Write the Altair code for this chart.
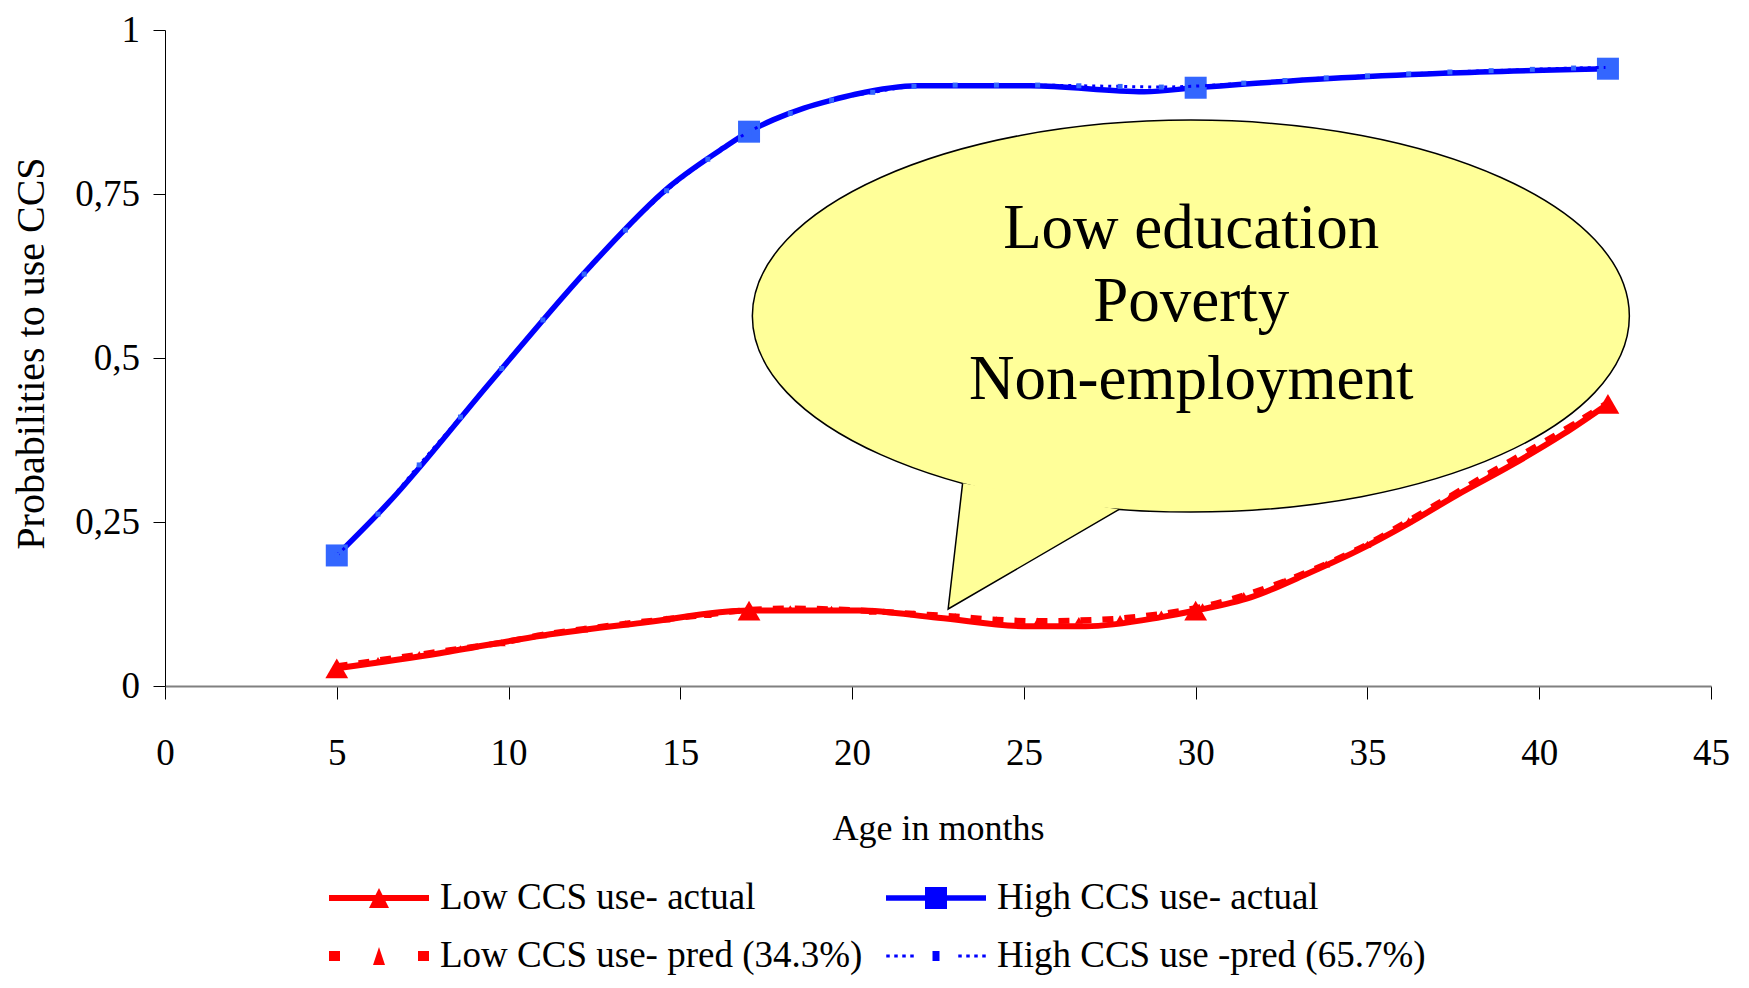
import altair as alt
import pandas as pd

# ---------------- data ----------------
ages_low_actual = [5, 8, 11, 14, 17, 20.2, 22.5, 25.1, 26.8, 29, 30, 31.6, 33.2, 34.7, 36.2, 37.6, 39.2, 40.7, 42]
prob_low_actual = [0.027, 0.050, 0.077, 0.097, 0.115, 0.115, 0.104, 0.091, 0.091, 0.105, 0.115, 0.135,
                   0.170, 0.206, 0.248, 0.291, 0.337, 0.384, 0.430]

ages_high_actual = [5, 6.5, 9.5, 12.4, 14.7, 16.25, 17, 17.7, 18.6, 19.4, 20.1, 21.9, 25.2, 28.5, 30, 33.9, 37.2, 42]
prob_high_actual = [0.199, 0.279, 0.465, 0.641, 0.762, 0.820, 0.845, 0.863, 0.881, 0.893, 0.902, 0.915,
                    0.915, 0.906, 0.912, 0.926, 0.934, 0.941]

marker_ages = [5, 17, 30, 42]

ages_pred = [5, 6.2, 7.4, 8.6, 9.8, 11, 12.2, 13.4, 14.6, 15.8, 17, 18.2, 19.4, 20.6, 21.8, 23, 24.2,
             25.4, 26.6, 27.8, 29, 30.2, 31.4, 32.6, 33.8, 35, 36.2, 37.4, 38.6, 39.8, 41, 42]
prob_low_pred = [0.030, 0.039, 0.048, 0.057, 0.066, 0.078, 0.087, 0.095, 0.102, 0.109, 0.116, 0.118,
                 0.117, 0.114, 0.110, 0.106, 0.101, 0.099, 0.100, 0.103, 0.110, 0.121, 0.138, 0.160,
                 0.186, 0.216, 0.252, 0.289, 0.326, 0.362, 0.399, 0.432]
prob_high_pred = [0.199, 0.262, 0.337, 0.410, 0.484, 0.558, 0.628, 0.695, 0.755, 0.803, 0.845, 0.873,
                  0.893, 0.905, 0.914, 0.916, 0.916, 0.916, 0.915, 0.914, 0.913, 0.915, 0.919, 0.923,
                  0.927, 0.930, 0.933, 0.936, 0.938, 0.940, 0.942, 0.943]

# legend order (filled column by column: left column first)
series_names = ["Low CCS use- actual", "Low CCS use- pred (34.3%)",
                "High CCS use- actual", "High CCS use -pred (65.7%)"]
series_colors = ["#FF0000", "#FF0000", "#0000FF", "#0000FF"]

callout_lines = ["Low education", "Poverty", "Non-employment"]
callout_line_age = [29.87, 29.87, 29.87]
callout_line_prob = [0.697, 0.585, 0.466]
callout_age = [29.86]
callout_prob = [0.5639]

x_ticks = [0, 5, 10, 15, 20, 25, 30, 35, 40, 45]
y_ticks = [0, 0.25, 0.5, 0.75, 1]

FONT = "Liberation Serif"


def frame(xs, ys):
    return pd.DataFrame({"age": xs, "p": ys})


low_act = frame(ages_low_actual, prob_low_actual)
high_act = frame(ages_high_actual, prob_high_actual)
low_mark = low_act[low_act["age"].isin(marker_ages)]
high_mark = high_act[high_act["age"].isin(marker_ages)]
low_pred = frame(ages_pred, prob_low_pred)
high_pred = frame(ages_pred, prob_high_pred)

legend_df = pd.DataFrame({
    "age": [ages_low_actual[0], ages_pred[0], ages_high_actual[0], ages_pred[0]],
    "p": [prob_low_actual[0], prob_low_pred[0], prob_high_actual[0], prob_high_pred[0]],
    "series": series_names,
})
text_df = pd.DataFrame({"age": callout_line_age, "p": callout_line_prob, "label": callout_lines})
callout_df = frame(callout_age, callout_prob)

# ---------------- shared encodings ----------------
X = alt.X("age:Q", scale=alt.Scale(domain=[0, 45], nice=False, zero=False),
          axis=alt.Axis(values=x_ticks, title="Age in months", grid=False,
                        tickSize=13, tickColor="black", tickWidth=1,
                        domainColor="#808080", domainWidth=2,
                        labelFont=FONT, labelFontSize=37, labelColor="black",
                        labelBaseline="middle", labelPadding=54,
                        labelFlush=False, labelOverlap=False,
                        titleFont=FONT, titleFontSize=36, titleFontWeight="normal",
                        titleColor="black", titleY=142, titleBaseline="middle"))
Y = alt.Y("p:Q", scale=alt.Scale(domain=[0, 1], nice=False),
          axis=alt.Axis(values=y_ticks, labelExpr="replace(toString(datum.value), '.', ',')",
                        grid=False, tickSize=12, tickColor="black", tickWidth=1,
                        domainColor="black", domainWidth=1,
                        labelFont=FONT, labelFontSize=37, labelColor="black",
                        labelPadding=13.5, labelFlush=False, labelOverlap=False,
                        title="Probabilities to use CCS", titleFont=FONT, titleFontSize=40,
                        titleFontWeight="normal", titleColor="black",
                        titleX=-134, titleY=323, titleBaseline="middle", titleAngle=270))

# ---------------- legend symbols ----------------
def rect(x0, x1, y0, y1):
    return f"M{x0},{y0}L{x1},{y0}L{x1},{y1}L{x0},{y1}Z"


sym_low_act = rect(-1, 1, -0.06, 0.06) + "M-0.2,0.2L0,-0.2L0.2,0.2Z"
sym_high_act = rect(-1, 1, -0.055, 0.055) + rect(-0.22, 0.22, -0.22, 0.22)
sym_low_pred = rect(-1, -0.78, -0.1, 0.1) + rect(0.78, 1, -0.1, 0.1) + "M-0.12,0.18L0,-0.18L0.12,0.18Z"
sym_high_pred = "".join(rect(round(c - 0.035, 3), round(c + 0.035, 3), -0.03, 0.03)
                        for c in [-0.96, -0.8, -0.64, -0.48, 0.48, 0.64, 0.8, 0.96]) + rect(-0.07, 0.07, -0.1, 0.1)

legend = alt.Legend(title=None, orient="none", legendX=164, legendY=848, columns=2,
                    columnPadding=23, rowPadding=18, clipHeight=40, labelOffset=11,
                    labelFont=FONT, labelFontSize=37, labelColor="black", labelLimit=0,
                    symbolSize=10000, symbolStrokeWidth=0, symbolOpacity=1, padding=0)

# ---------------- layers ----------------
line_low = alt.Chart(low_act).mark_line(color="#FF0000", strokeWidth=6, interpolate="monotone").encode(x=X, y=Y)
line_high = alt.Chart(high_act).mark_line(color="#0000FF", strokeWidth=5.5, interpolate="monotone").encode(x=X, y=Y)
mk_low = alt.Chart(low_mark).mark_point(shape="triangle-up", filled=True, color="#FF0000",
                                        size=520, opacity=1).encode(x=X, y=Y)
mk_high = alt.Chart(high_mark).mark_square(color="#3366FF", size=484, opacity=1).encode(x=X, y=Y)

pline_low = alt.Chart(low_pred).mark_line(color="#FF0000", strokeWidth=6, strokeDash=[11, 11],
                                          interpolate="monotone").encode(x=X, y=Y)
pmk_low = alt.Chart(low_pred).mark_point(shape="triangle-up", filled=True, color="#FF0000",
                                         size=64, opacity=1).encode(x=X, y=Y)
pline_high = alt.Chart(high_pred).mark_line(color="#0000FF", strokeWidth=3, strokeDash=[3, 5],
                                            interpolate="monotone").encode(x=X, y=Y)
pmk_high = alt.Chart(high_pred).mark_square(color="#3366FF", size=25, opacity=1).encode(x=X, y=Y)

legend_layer = alt.Chart(legend_df).mark_point(filled=True, opacity=0, size=10).encode(
    x=X, y=Y,
    color=alt.Color("series:N", scale=alt.Scale(domain=series_names, range=series_colors), legend=legend),
    shape=alt.Shape("series:N", scale=alt.Scale(domain=series_names,
                                                range=[sym_low_act, sym_low_pred, sym_high_act, sym_high_pred]),
                    legend=legend),
)

ry = 0.447
kr = round(0.5523 * ry, 4)
ellipse_path = (f"M-1,0C-1,{-kr} -0.5523,{-ry} 0,{-ry}C0.5523,{-ry} 1,{-kr} 1,0"
                f"C1,{kr} 0.5523,{ry} 0,{ry}C-0.5523,{ry} -1,{kr} -1,0Z")
tail_path = "M-0.5206,0.3815L-0.5535,0.668L-0.1635,0.441"
callout_size = 877 ** 2

ellipse = alt.Chart(callout_df).mark_point(shape=ellipse_path, size=callout_size, filled=True,
                                           fill="#FFFF99", stroke="black", strokeWidth=1.5,
                                           opacity=1, fillOpacity=1, strokeOpacity=1).encode(x=X, y=Y)
tail = alt.Chart(callout_df).mark_point(shape=tail_path, size=callout_size, filled=True,
                                        fill="#FFFF99", stroke="black", strokeWidth=1.5,
                                        opacity=1, fillOpacity=1, strokeOpacity=1).encode(x=X, y=Y)
text = alt.Chart(text_df).mark_text(font=FONT, fontSize=63, color="black", align="center",
                                    baseline="middle").encode(x=X, y=Y, text="label:N")

chart = alt.layer(
    line_low, line_high, mk_low, mk_high, pline_low, pmk_low, pline_high, pmk_high,
    legend_layer, ellipse, tail, text
).properties(
    width=1546, height=656,
    padding={"left": 157, "top": 22, "right": 30, "bottom": 294},
    autosize=alt.AutoSizeParams(type="none"),
    background="white",
).configure_view(stroke=None)

chart.save("out.html", embed_options={"renderer": "svg", "actions": False})
